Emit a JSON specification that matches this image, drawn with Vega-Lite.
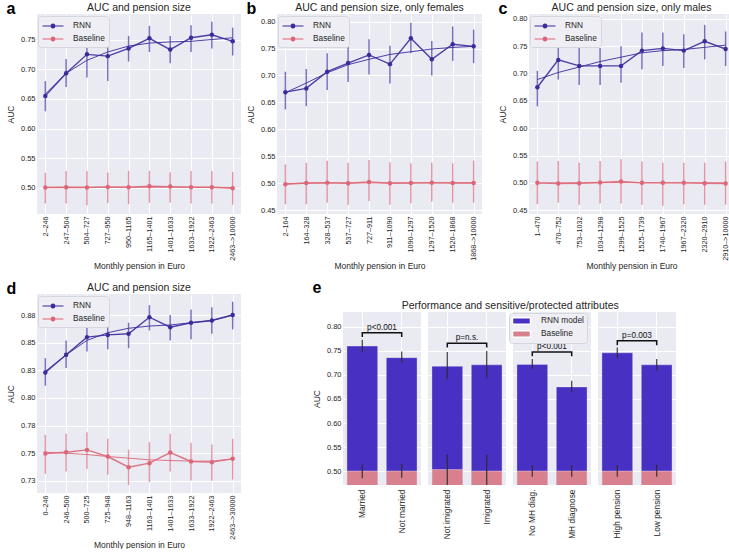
{
  "$schema": "https://vega.github.io/schema/vega-lite/v6.json",
  "padding": {"left": 6, "top": 0, "right": 0, "bottom": 0},
  "background": "white",
  "config": {
    "font": "Liberation Sans",
    "view": {"fill": "#EAEAF2", "stroke": null},
    "axis": {"domain": false, "ticks": false, "tickSize": 0, "grid": true, "gridColor": "white", "gridWidth": 1, "labelFontSize": 7.5, "labelColor": "#262626", "titleFontSize": 8.5, "titleFontWeight": "normal", "titleColor": "#262626", "labelPadding": 2, "titlePadding": 5, "labelOverlap": false},
    "axisX": {"titlePadding": 1, "labelFontSize": 7.2},
    "title": {"fontSize": 10.5, "fontWeight": "normal", "color": "#262626", "offset": 1},
    "legend": {"labelFontSize": 8.3, "labelColor": "#262626", "fillColor": "#eeeef4", "strokeColor": "#d6d6de", "cornerRadius": 3, "padding": 4, "symbolOpacity": 1, "rowPadding": 3}
  },
  "datasets": {
    "a": [
      {"cat": "2–246", "s": "RNN", "val": 0.655, "lo": 0.629, "hi": 0.680, "fit": 0.658},
      {"cat": "247–504", "s": "RNN", "val": 0.693, "lo": 0.670, "hi": 0.717, "fit": 0.693},
      {"cat": "504–727", "s": "RNN", "val": 0.725, "lo": 0.686, "hi": 0.755, "fit": 0.715},
      {"cat": "727–950", "s": "RNN", "val": 0.722, "lo": 0.680, "hi": 0.746, "fit": 0.729},
      {"cat": "950–1165", "s": "RNN", "val": 0.735, "lo": 0.713, "hi": 0.756, "fit": 0.739},
      {"cat": "1165–1401", "s": "RNN", "val": 0.752, "lo": 0.729, "hi": 0.773, "fit": 0.744},
      {"cat": "1401–1633", "s": "RNN", "val": 0.733, "lo": 0.710, "hi": 0.756, "fit": 0.746},
      {"cat": "1633–1922", "s": "RNN", "val": 0.753, "lo": 0.729, "hi": 0.774, "fit": 0.747},
      {"cat": "1922–2463", "s": "RNN", "val": 0.758, "lo": 0.735, "hi": 0.780, "fit": 0.750},
      {"cat": "2463–>10000", "s": "RNN", "val": 0.747, "lo": 0.723, "hi": 0.770, "fit": 0.753},
      {"cat": "2–246", "s": "Baseline", "val": 0.5006, "lo": 0.4736, "hi": 0.5253, "fit": 0.5008},
      {"cat": "247–504", "s": "Baseline", "val": 0.5010, "lo": 0.4736, "hi": 0.5286, "fit": 0.5009},
      {"cat": "504–727", "s": "Baseline", "val": 0.5006, "lo": 0.4708, "hi": 0.5286, "fit": 0.5010},
      {"cat": "727–950", "s": "Baseline", "val": 0.5017, "lo": 0.4747, "hi": 0.5258, "fit": 0.5010},
      {"cat": "950–1165", "s": "Baseline", "val": 0.5010, "lo": 0.4725, "hi": 0.5286, "fit": 0.5011},
      {"cat": "1165–1401", "s": "Baseline", "val": 0.5028, "lo": 0.4747, "hi": 0.5286, "fit": 0.5011},
      {"cat": "1401–1633", "s": "Baseline", "val": 0.5022, "lo": 0.4753, "hi": 0.5264, "fit": 0.5011},
      {"cat": "1633–1922", "s": "Baseline", "val": 0.5010, "lo": 0.4736, "hi": 0.5286, "fit": 0.5010},
      {"cat": "1922–2463", "s": "Baseline", "val": 0.5010, "lo": 0.4736, "hi": 0.5286, "fit": 0.5009},
      {"cat": "2463–>10000", "s": "Baseline", "val": 0.4994, "lo": 0.4719, "hi": 0.5269, "fit": 0.5007}
    ],
    "b": [
      {"cat": "2–164", "s": "RNN", "val": 0.669, "lo": 0.637, "hi": 0.707, "fit": 0.668},
      {"cat": "164–328", "s": "RNN", "val": 0.676, "lo": 0.643, "hi": 0.712, "fit": 0.686},
      {"cat": "328–537", "s": "RNN", "val": 0.707, "lo": 0.673, "hi": 0.741, "fit": 0.705},
      {"cat": "537–727", "s": "RNN", "val": 0.723, "lo": 0.688, "hi": 0.755, "fit": 0.720},
      {"cat": "727–911", "s": "RNN", "val": 0.738, "lo": 0.702, "hi": 0.767, "fit": 0.730},
      {"cat": "911–1090", "s": "RNN", "val": 0.721, "lo": 0.685, "hi": 0.755, "fit": 0.739},
      {"cat": "1090–1297", "s": "RNN", "val": 0.769, "lo": 0.741, "hi": 0.798, "fit": 0.744},
      {"cat": "1297–1520", "s": "RNN", "val": 0.730, "lo": 0.700, "hi": 0.764, "fit": 0.749},
      {"cat": "1520–1868", "s": "RNN", "val": 0.758, "lo": 0.727, "hi": 0.791, "fit": 0.752},
      {"cat": "1868–>10000", "s": "RNN", "val": 0.754, "lo": 0.723, "hi": 0.785, "fit": 0.754},
      {"cat": "2–164", "s": "Baseline", "val": 0.4981, "lo": 0.461, "hi": 0.535, "fit": 0.4995},
      {"cat": "164–328", "s": "Baseline", "val": 0.5006, "lo": 0.461, "hi": 0.538, "fit": 0.5000},
      {"cat": "328–537", "s": "Baseline", "val": 0.5012, "lo": 0.464, "hi": 0.542, "fit": 0.5003},
      {"cat": "537–727", "s": "Baseline", "val": 0.5000, "lo": 0.460, "hi": 0.538, "fit": 0.5005},
      {"cat": "727–911", "s": "Baseline", "val": 0.5025, "lo": 0.467, "hi": 0.543, "fit": 0.5006},
      {"cat": "911–1090", "s": "Baseline", "val": 0.5000, "lo": 0.460, "hi": 0.539, "fit": 0.5006},
      {"cat": "1090–1297", "s": "Baseline", "val": 0.5006, "lo": 0.463, "hi": 0.537, "fit": 0.5006},
      {"cat": "1297–1520", "s": "Baseline", "val": 0.5012, "lo": 0.466, "hi": 0.538, "fit": 0.5007},
      {"cat": "1520–1868", "s": "Baseline", "val": 0.5006, "lo": 0.464, "hi": 0.537, "fit": 0.5007},
      {"cat": "1868–>10000", "s": "Baseline", "val": 0.5006, "lo": 0.464, "hi": 0.542, "fit": 0.5007}
    ],
    "c": [
      {"cat": "1–470", "s": "RNN", "val": 0.675, "lo": 0.640, "hi": 0.705, "fit": 0.689},
      {"cat": "470–752", "s": "RNN", "val": 0.725, "lo": 0.689, "hi": 0.759, "fit": 0.702},
      {"cat": "753–1032", "s": "RNN", "val": 0.714, "lo": 0.679, "hi": 0.748, "fit": 0.712},
      {"cat": "1034–1298", "s": "RNN", "val": 0.714, "lo": 0.679, "hi": 0.747, "fit": 0.722},
      {"cat": "1299–1525", "s": "RNN", "val": 0.714, "lo": 0.683, "hi": 0.750, "fit": 0.730},
      {"cat": "1525–1739", "s": "RNN", "val": 0.742, "lo": 0.708, "hi": 0.775, "fit": 0.738},
      {"cat": "1740–1967", "s": "RNN", "val": 0.746, "lo": 0.714, "hi": 0.775, "fit": 0.742},
      {"cat": "1967–2320", "s": "RNN", "val": 0.742, "lo": 0.710, "hi": 0.772, "fit": 0.744},
      {"cat": "2320–2910", "s": "RNN", "val": 0.759, "lo": 0.726, "hi": 0.789, "fit": 0.748},
      {"cat": "2910–>10000", "s": "RNN", "val": 0.745, "lo": 0.714, "hi": 0.777, "fit": 0.752},
      {"cat": "1–470", "s": "Baseline", "val": 0.5000, "lo": 0.461, "hi": 0.539, "fit": 0.4996},
      {"cat": "470–752", "s": "Baseline", "val": 0.4988, "lo": 0.464, "hi": 0.540, "fit": 0.4998},
      {"cat": "753–1032", "s": "Baseline", "val": 0.4994, "lo": 0.460, "hi": 0.537, "fit": 0.5000},
      {"cat": "1034–1298", "s": "Baseline", "val": 0.5006, "lo": 0.462, "hi": 0.540, "fit": 0.5002},
      {"cat": "1299–1525", "s": "Baseline", "val": 0.5024, "lo": 0.462, "hi": 0.543, "fit": 0.5003},
      {"cat": "1525–1739", "s": "Baseline", "val": 0.5000, "lo": 0.460, "hi": 0.539, "fit": 0.5003},
      {"cat": "1740–1967", "s": "Baseline", "val": 0.5000, "lo": 0.458, "hi": 0.537, "fit": 0.5002},
      {"cat": "1967–2320", "s": "Baseline", "val": 0.5000, "lo": 0.461, "hi": 0.537, "fit": 0.5001},
      {"cat": "2320–2910", "s": "Baseline", "val": 0.4994, "lo": 0.460, "hi": 0.537, "fit": 0.5000},
      {"cat": "2910–>10000", "s": "Baseline", "val": 0.4988, "lo": 0.460, "hi": 0.539, "fit": 0.4999}
    ],
    "d": [
      {"cat": "0–246", "s": "RNN", "val": 0.823, "lo": 0.811, "hi": 0.836, "fit": 0.824},
      {"cat": "246–500", "s": "RNN", "val": 0.839, "lo": 0.827, "hi": 0.852, "fit": 0.839},
      {"cat": "500–725", "s": "RNN", "val": 0.855, "lo": 0.842, "hi": 0.866, "fit": 0.852},
      {"cat": "725–948", "s": "RNN", "val": 0.857, "lo": 0.844, "hi": 0.871, "fit": 0.859},
      {"cat": "948–1163", "s": "RNN", "val": 0.858, "lo": 0.845, "hi": 0.868, "fit": 0.863},
      {"cat": "1163–1401", "s": "RNN", "val": 0.873, "lo": 0.861, "hi": 0.884, "fit": 0.865},
      {"cat": "1401–1633", "s": "RNN", "val": 0.864, "lo": 0.852, "hi": 0.875, "fit": 0.866},
      {"cat": "1633–1922", "s": "RNN", "val": 0.868, "lo": 0.853, "hi": 0.880, "fit": 0.868},
      {"cat": "1922–2463", "s": "RNN", "val": 0.870, "lo": 0.858, "hi": 0.882, "fit": 0.870},
      {"cat": "2463–>30000", "s": "RNN", "val": 0.875, "lo": 0.862, "hi": 0.887, "fit": 0.875},
      {"cat": "0–246", "s": "Baseline", "val": 0.7497, "lo": 0.7313, "hi": 0.7666, "fit": 0.7509},
      {"cat": "246–500", "s": "Baseline", "val": 0.7509, "lo": 0.7334, "hi": 0.7675, "fit": 0.7500},
      {"cat": "500–725", "s": "Baseline", "val": 0.7530, "lo": 0.7358, "hi": 0.7690, "fit": 0.7488},
      {"cat": "725–948", "s": "Baseline", "val": 0.7470, "lo": 0.7304, "hi": 0.7630, "fit": 0.7470},
      {"cat": "948–1163", "s": "Baseline", "val": 0.7373, "lo": 0.7213, "hi": 0.7533, "fit": 0.7455},
      {"cat": "1163–1401", "s": "Baseline", "val": 0.7410, "lo": 0.7238, "hi": 0.7600, "fit": 0.7440},
      {"cat": "1401–1633", "s": "Baseline", "val": 0.7506, "lo": 0.7334, "hi": 0.7675, "fit": 0.7434},
      {"cat": "1633–1922", "s": "Baseline", "val": 0.7425, "lo": 0.7253, "hi": 0.7594, "fit": 0.7428},
      {"cat": "1922–2463", "s": "Baseline", "val": 0.7419, "lo": 0.7250, "hi": 0.7578, "fit": 0.7428},
      {"cat": "2463–>30000", "s": "Baseline", "val": 0.7449, "lo": 0.7262, "hi": 0.7630, "fit": 0.7449}
    ],
    "e": [
      {"kind": "bar", "grp": "1", "cat": "Married", "rnn": 0.760, "rlo": 0.748, "rhi": 0.773, "base": 0.500, "blo": 0.485, "bhi": 0.514},
      {"kind": "bar", "grp": "1", "cat": "Not married", "rnn": 0.736, "rlo": 0.726, "rhi": 0.749, "base": 0.500, "blo": 0.486, "bhi": 0.515},
      {"kind": "bar", "grp": "2", "cat": "Not imigrated", "rnn": 0.718, "rlo": 0.691, "rhi": 0.748, "base": 0.503, "blo": 0.440, "bhi": 0.535},
      {"kind": "bar", "grp": "2", "cat": "Imigrated", "rnn": 0.721, "rlo": 0.693, "rhi": 0.750, "base": 0.500, "blo": 0.440, "bhi": 0.534},
      {"kind": "bar", "grp": "3", "cat": "No MH diag.", "rnn": 0.722, "rlo": 0.713, "rhi": 0.733, "base": 0.500, "blo": 0.488, "bhi": 0.512},
      {"kind": "bar", "grp": "3", "cat": "MH diagnose", "rnn": 0.675, "rlo": 0.665, "rhi": 0.688, "base": 0.500, "blo": 0.488, "bhi": 0.512},
      {"kind": "bar", "grp": "4", "cat": "High pension", "rnn": 0.746, "rlo": 0.736, "rhi": 0.757, "base": 0.500, "blo": 0.488, "bhi": 0.512},
      {"kind": "bar", "grp": "4", "cat": "Low pension", "rnn": 0.721, "rlo": 0.710, "rhi": 0.733, "base": 0.500, "blo": 0.488, "bhi": 0.513},
      {"kind": "br", "grp": "1", "cat": "Married", "by": 0.779, "ord": 1},
      {"kind": "br", "grp": "1", "cat": "Married", "by": 0.788, "ord": 2},
      {"kind": "br", "grp": "1", "cat": "Not married", "by": 0.788, "ord": 3},
      {"kind": "br", "grp": "1", "cat": "Not married", "by": 0.779, "ord": 4},
      {"kind": "br", "grp": "2", "cat": "Not imigrated", "by": 0.757, "ord": 1},
      {"kind": "br", "grp": "2", "cat": "Not imigrated", "by": 0.766, "ord": 2},
      {"kind": "br", "grp": "2", "cat": "Imigrated", "by": 0.766, "ord": 3},
      {"kind": "br", "grp": "2", "cat": "Imigrated", "by": 0.757, "ord": 4},
      {"kind": "br", "grp": "3", "cat": "No MH diag.", "by": 0.739, "ord": 1},
      {"kind": "br", "grp": "3", "cat": "No MH diag.", "by": 0.748, "ord": 2},
      {"kind": "br", "grp": "3", "cat": "MH diagnose", "by": 0.748, "ord": 3},
      {"kind": "br", "grp": "3", "cat": "MH diagnose", "by": 0.739, "ord": 4},
      {"kind": "br", "grp": "4", "cat": "High pension", "by": 0.762, "ord": 1},
      {"kind": "br", "grp": "4", "cat": "High pension", "by": 0.771, "ord": 2},
      {"kind": "br", "grp": "4", "cat": "Low pension", "by": 0.771, "ord": 3},
      {"kind": "br", "grp": "4", "cat": "Low pension", "by": 0.762, "ord": 4},
      {"kind": "txt", "grp": "1", "ty": 0.788, "label": "p<0.001"},
      {"kind": "txt", "grp": "2", "ty": 0.766, "label": "p=n.s."},
      {"kind": "txt", "grp": "3", "ty": 0.748, "label": "p<0.001"},
      {"kind": "txt", "grp": "4", "ty": 0.771, "label": "p=0.003"}
    ]
  },
  "spacing": 10,
  "resolve": {"scale": {"fill": "independent", "stroke": "independent"}, "legend": {"fill": "independent", "stroke": "independent"}},
  "vconcat": [
    {
      "spacing": 5,
      "resolve": {"scale": {"fill": "independent", "stroke": "independent"}, "legend": {"fill": "independent", "stroke": "independent"}},
      "hconcat": [
        {
          "title": {"text": "a", "anchor": "start", "frame": "bounds", "fontSize": 16, "fontWeight": "bold", "color": "#000", "offset": -14},
          "resolve": {"scale": {"fill": "independent", "stroke": "independent"}, "legend": {"fill": "independent", "stroke": "independent"}},
          "vconcat": [{
            "width": 204, "height": 200,
            "title": "AUC and pension size",
            "data": {"name": "a"},
            "encoding": {"x": {"field": "cat", "type": "ordinal", "sort": null, "scale": {"type": "point", "padding": 0.4}, "axis": {"title": "Monthly pension in Euro", "labelAngle": -90}}},
            "layer": [
              {"mark": {"type": "rule", "strokeWidth": 1.5, "opacity": 0.65}, "encoding": {"y": {"field": "lo", "type": "quantitative", "title": "AUC", "scale": {"domain": [0.456, 0.793], "nice": false, "zero": false}, "axis": {"values": [0.5, 0.55, 0.6, 0.65, 0.7, 0.75], "format": ".2f"}}, "y2": {"field": "hi"}, "stroke": {"field": "s", "type": "nominal", "scale": {"domain": ["Baseline", "RNN"], "range": ["#dc6779", "#3b2c9c"]}, "legend": null}}},
              {"mark": {"type": "line", "strokeWidth": 1, "opacity": 0.9}, "encoding": {"y": {"field": "fit", "type": "quantitative", "title": "AUC", "axis": {"values": [0.5, 0.55, 0.6, 0.65, 0.7, 0.75], "format": ".2f"}}, "stroke": {"field": "s", "type": "nominal", "legend": null}}},
              {"mark": {"type": "line", "strokeWidth": 1.4, "opacity": 0.9}, "encoding": {"y": {"field": "val", "type": "quantitative", "title": "AUC", "axis": {"values": [0.5, 0.55, 0.6, 0.65, 0.7, 0.75], "format": ".2f"}}, "stroke": {"field": "s", "type": "nominal", "legend": null}}},
              {"mark": {"type": "point", "filled": true, "size": 20, "opacity": 1}, "encoding": {"y": {"field": "val", "type": "quantitative", "title": "AUC", "axis": {"values": [0.5, 0.55, 0.6, 0.65, 0.7, 0.75], "format": ".2f"}}, "fill": {"field": "s", "type": "nominal", "scale": {"domain": ["RNN", "Baseline"], "range": ["#3b2c9c", "#dc6779"]}, "legend": {"title": null, "orient": "none", "legendX": 1, "legendY": 2, "symbolType": "M-2,-0.1H-0.5V0.1H-2Z M0.5,-0.1H2V0.1H0.5Z M0.48,0A0.48,0.48,0,1,1,-0.48,0A0.48,0.48,0,1,1,0.48,0Z", "symbolSize": 110, "symbolOffset": 5, "labelOffset": 14}}}}
            ]
          }]
        },
        {
          "spacing": 16,
          "resolve": {"scale": {"fill": "independent", "stroke": "independent"}, "legend": {"fill": "independent", "stroke": "independent"}},
          "hconcat": [
            {
              "title": {"text": "b", "anchor": "start", "frame": "bounds", "fontSize": 16, "fontWeight": "bold", "color": "#000", "offset": -14},
              "resolve": {"scale": {"fill": "independent", "stroke": "independent"}, "legend": {"fill": "independent", "stroke": "independent"}},
              "vconcat": [{
                "width": 205, "height": 200,
                "title": "AUC and pension size, only females",
                "data": {"name": "b"},
                "encoding": {"x": {"field": "cat", "type": "ordinal", "sort": null, "scale": {"type": "point", "padding": 0.4}, "axis": {"title": "Monthly pension in Euro", "labelAngle": -90}}},
                "layer": [
                  {"mark": {"type": "rule", "strokeWidth": 1.5, "opacity": 0.65}, "encoding": {"y": {"field": "lo", "type": "quantitative", "title": "AUC", "scale": {"domain": [0.443, 0.814], "nice": false, "zero": false}, "axis": {"values": [0.45, 0.5, 0.55, 0.6, 0.65, 0.7, 0.75, 0.8], "format": ".2f"}}, "y2": {"field": "hi"}, "stroke": {"field": "s", "type": "nominal", "scale": {"domain": ["Baseline", "RNN"], "range": ["#dc6779", "#3b2c9c"]}, "legend": null}}},
                  {"mark": {"type": "line", "strokeWidth": 1, "opacity": 0.9}, "encoding": {"y": {"field": "fit", "type": "quantitative", "title": "AUC", "axis": {"values": [0.45, 0.5, 0.55, 0.6, 0.65, 0.7, 0.75, 0.8], "format": ".2f"}}, "stroke": {"field": "s", "type": "nominal", "legend": null}}},
                  {"mark": {"type": "line", "strokeWidth": 1.4, "opacity": 0.9}, "encoding": {"y": {"field": "val", "type": "quantitative", "title": "AUC", "axis": {"values": [0.45, 0.5, 0.55, 0.6, 0.65, 0.7, 0.75, 0.8], "format": ".2f"}}, "stroke": {"field": "s", "type": "nominal", "legend": null}}},
                  {"mark": {"type": "point", "filled": true, "size": 20, "opacity": 1}, "encoding": {"y": {"field": "val", "type": "quantitative", "title": "AUC", "axis": {"values": [0.45, 0.5, 0.55, 0.6, 0.65, 0.7, 0.75, 0.8], "format": ".2f"}}, "fill": {"field": "s", "type": "nominal", "scale": {"domain": ["RNN", "Baseline"], "range": ["#3b2c9c", "#dc6779"]}, "legend": {"title": null, "orient": "none", "legendX": 1, "legendY": 2, "symbolType": "M-2,-0.1H-0.5V0.1H-2Z M0.5,-0.1H2V0.1H0.5Z M0.48,0A0.48,0.48,0,1,1,-0.48,0A0.48,0.48,0,1,1,0.48,0Z", "symbolSize": 110, "symbolOffset": 5, "labelOffset": 14}}}}
                ]
              }]
            },
            {
              "title": {"text": "c", "anchor": "start", "frame": "bounds", "fontSize": 16, "fontWeight": "bold", "color": "#000", "offset": -14},
              "resolve": {"scale": {"fill": "independent", "stroke": "independent"}, "legend": {"fill": "independent", "stroke": "independent"}},
              "vconcat": [{
                "width": 205, "height": 200,
                "title": "AUC and pension size, only males",
                "data": {"name": "c"},
                "encoding": {"x": {"field": "cat", "type": "ordinal", "sort": null, "scale": {"type": "point", "padding": 0.4}, "axis": {"title": "Monthly pension in Euro", "labelAngle": -90}}},
                "layer": [
                  {"mark": {"type": "rule", "strokeWidth": 1.5, "opacity": 0.65}, "encoding": {"y": {"field": "lo", "type": "quantitative", "title": "AUC", "scale": {"domain": [0.443, 0.809], "nice": false, "zero": false}, "axis": {"values": [0.45, 0.5, 0.55, 0.6, 0.65, 0.7, 0.75, 0.8], "format": ".2f"}}, "y2": {"field": "hi"}, "stroke": {"field": "s", "type": "nominal", "scale": {"domain": ["Baseline", "RNN"], "range": ["#dc6779", "#3b2c9c"]}, "legend": null}}},
                  {"mark": {"type": "line", "strokeWidth": 1, "opacity": 0.9}, "encoding": {"y": {"field": "fit", "type": "quantitative", "title": "AUC", "axis": {"values": [0.45, 0.5, 0.55, 0.6, 0.65, 0.7, 0.75, 0.8], "format": ".2f"}}, "stroke": {"field": "s", "type": "nominal", "legend": null}}},
                  {"mark": {"type": "line", "strokeWidth": 1.4, "opacity": 0.9}, "encoding": {"y": {"field": "val", "type": "quantitative", "title": "AUC", "axis": {"values": [0.45, 0.5, 0.55, 0.6, 0.65, 0.7, 0.75, 0.8], "format": ".2f"}}, "stroke": {"field": "s", "type": "nominal", "legend": null}}},
                  {"mark": {"type": "point", "filled": true, "size": 20, "opacity": 1}, "encoding": {"y": {"field": "val", "type": "quantitative", "title": "AUC", "axis": {"values": [0.45, 0.5, 0.55, 0.6, 0.65, 0.7, 0.75, 0.8], "format": ".2f"}}, "fill": {"field": "s", "type": "nominal", "scale": {"domain": ["RNN", "Baseline"], "range": ["#3b2c9c", "#dc6779"]}, "legend": {"title": null, "orient": "none", "legendX": 1, "legendY": 2, "symbolType": "M-2,-0.1H-0.5V0.1H-2Z M0.5,-0.1H2V0.1H0.5Z M0.48,0A0.48,0.48,0,1,1,-0.48,0A0.48,0.48,0,1,1,0.48,0Z", "symbolSize": 110, "symbolOffset": 5, "labelOffset": 14}}}}
                ]
              }]
            }
          ]
        }
      ]
    },
    {
      "spacing": 71,
      "resolve": {"scale": {"fill": "independent", "stroke": "independent"}, "legend": {"fill": "independent", "stroke": "independent"}},
      "hconcat": [
        {
          "title": {"text": "d", "anchor": "start", "frame": "bounds", "fontSize": 16, "fontWeight": "bold", "color": "#000", "offset": -14},
          "resolve": {"scale": {"fill": "independent", "stroke": "independent"}, "legend": {"fill": "independent", "stroke": "independent"}},
          "vconcat": [{
            "width": 204, "height": 199,
            "title": "AUC and pension size",
            "data": {"name": "d"},
            "encoding": {"x": {"field": "cat", "type": "ordinal", "sort": null, "scale": {"type": "point", "padding": 0.4}, "axis": {"title": "Monthly pension in Euro", "labelAngle": -90}}},
            "layer": [
              {"mark": {"type": "rule", "strokeWidth": 1.5, "opacity": 0.65}, "encoding": {"y": {"field": "lo", "type": "quantitative", "title": "AUC", "scale": {"domain": [0.714, 0.894], "nice": false, "zero": false}, "axis": {"values": [0.725, 0.75, 0.775, 0.8, 0.825, 0.85, 0.875], "labelExpr": "format(datum.value + 0.0001, '.2f')"}}, "y2": {"field": "hi"}, "stroke": {"field": "s", "type": "nominal", "scale": {"domain": ["Baseline", "RNN"], "range": ["#dc6779", "#3b2c9c"]}, "legend": null}}},
              {"mark": {"type": "line", "strokeWidth": 1, "opacity": 0.9}, "encoding": {"y": {"field": "fit", "type": "quantitative", "title": "AUC", "axis": {"values": [0.725, 0.75, 0.775, 0.8, 0.825, 0.85, 0.875], "labelExpr": "format(datum.value + 0.0001, '.2f')"}}, "stroke": {"field": "s", "type": "nominal", "legend": null}}},
              {"mark": {"type": "line", "strokeWidth": 1.4, "opacity": 0.9}, "encoding": {"y": {"field": "val", "type": "quantitative", "title": "AUC", "axis": {"values": [0.725, 0.75, 0.775, 0.8, 0.825, 0.85, 0.875], "labelExpr": "format(datum.value + 0.0001, '.2f')"}}, "stroke": {"field": "s", "type": "nominal", "legend": null}}},
              {"mark": {"type": "point", "filled": true, "size": 20, "opacity": 1}, "encoding": {"y": {"field": "val", "type": "quantitative", "title": "AUC", "axis": {"values": [0.725, 0.75, 0.775, 0.8, 0.825, 0.85, 0.875], "labelExpr": "format(datum.value + 0.0001, '.2f')"}}, "fill": {"field": "s", "type": "nominal", "scale": {"domain": ["RNN", "Baseline"], "range": ["#3b2c9c", "#dc6779"]}, "legend": {"title": null, "orient": "none", "legendX": 1, "legendY": 2, "symbolType": "M-2,-0.1H-0.5V0.1H-2Z M0.5,-0.1H2V0.1H0.5Z M0.48,0A0.48,0.48,0,1,1,-0.48,0A0.48,0.48,0,1,1,0.48,0Z", "symbolSize": 110, "symbolOffset": 5, "labelOffset": 14}}}}
            ]
          }]
        },
        {
          "title": {"text": "e", "anchor": "start", "frame": "bounds", "fontSize": 16, "fontWeight": "bold", "color": "#000", "offset": -2},
          "spacing": 5,
          "resolve": {"scale": {"fill": "independent", "stroke": "independent"}, "legend": {"fill": "independent", "stroke": "independent"}},
          "vconcat": [
            {"width": 1, "height": 1, "view": {"fill": null, "stroke": null}, "data": {"values": []}, "mark": "point"},
            {
              "data": {"name": "e"},
              "title": {"text": "Performance and sensitive/protected attributes", "anchor": "middle", "dx": 16},
              "facet": {"column": {"field": "grp", "type": "nominal", "header": null}},
              "spacing": 7,
              "resolve": {"scale": {"x": "independent"}},
              "spec": {
                "width": 78, "height": 173,
                "encoding": {"x": {"field": "cat", "type": "nominal", "sort": null, "title": null, "scale": {"paddingInner": 0.22, "paddingOuter": 0.1}, "axis": {"labelAngle": -90, "labelFontSize": 8.4, "bandPosition": 0.5, "labelPadding": 4}}},
                "layer": [
                  {"transform": [{"filter": "datum.kind == 'bar'"}], "mark": {"type": "bar", "clip": true, "stroke": "#ffffff", "strokeWidth": 0.6, "strokeOpacity": 0.5}, "encoding": {"y": {"field": "rnn", "type": "quantitative", "title": "AUC", "scale": {"domain": [0.471, 0.831], "nice": false, "zero": false}, "axis": {"values": [0.5, 0.55, 0.6, 0.65, 0.7, 0.75, 0.8], "format": ".2f"}}, "fill": {"datum": "RNN model", "type": "nominal", "scale": {"domain": ["RNN model", "Baseline"], "range": ["#4830c3", "#d9808e"]}, "legend": {"title": null, "orient": "none", "legendX": 166, "legendY": 1, "rowPadding": 0, "padding": 2.5, "symbolType": "M-2,-0.7H2V0.7H-2Z", "symbolSize": 81, "symbolOffset": 4.5, "labelOffset": 14}}}},
                  {"transform": [{"filter": "datum.kind == 'bar'"}], "mark": {"type": "bar", "clip": true, "stroke": "#ffffff", "strokeWidth": 0.6, "strokeOpacity": 0.6}, "encoding": {"y": {"field": "base", "type": "quantitative", "title": "AUC", "axis": {"values": [0.5, 0.55, 0.6, 0.65, 0.7, 0.75, 0.8], "format": ".2f"}}, "fill": {"datum": "Baseline", "type": "nominal"}}},
                  {"transform": [{"filter": "datum.kind == 'bar'"}], "mark": {"type": "rule", "clip": true, "color": "#2a2a2a", "strokeWidth": 1.3, "opacity": 0.85}, "encoding": {"y": {"field": "rlo", "type": "quantitative", "title": "AUC", "axis": {"values": [0.5, 0.55, 0.6, 0.65, 0.7, 0.75, 0.8], "format": ".2f"}}, "y2": {"field": "rhi"}}},
                  {"transform": [{"filter": "datum.kind == 'bar'"}], "mark": {"type": "rule", "clip": true, "color": "#2a2a2a", "strokeWidth": 1.3, "opacity": 0.85}, "encoding": {"y": {"field": "blo", "type": "quantitative", "title": "AUC", "axis": {"values": [0.5, 0.55, 0.6, 0.65, 0.7, 0.75, 0.8], "format": ".2f"}}, "y2": {"field": "bhi"}}},
                  {"transform": [{"filter": "datum.kind == 'br'"}], "mark": {"type": "line", "color": "#111111", "strokeWidth": 1.5}, "encoding": {"y": {"field": "by", "type": "quantitative", "title": "AUC", "axis": {"values": [0.5, 0.55, 0.6, 0.65, 0.7, 0.75, 0.8], "format": ".2f"}}, "order": {"field": "ord", "type": "quantitative"}}},
                  {"transform": [{"filter": "datum.kind == 'txt'"}], "mark": {"type": "text", "baseline": "bottom", "dy": -1, "fontSize": 8.2, "color": "#111111"}, "encoding": {"x": null, "y": {"field": "ty", "type": "quantitative", "title": "AUC", "axis": {"values": [0.5, 0.55, 0.6, 0.65, 0.7, 0.75, 0.8], "format": ".2f"}}, "text": {"field": "label", "type": "nominal"}}}
                ]
              }
            }
          ]
        }
      ]
    }
  ]
}
